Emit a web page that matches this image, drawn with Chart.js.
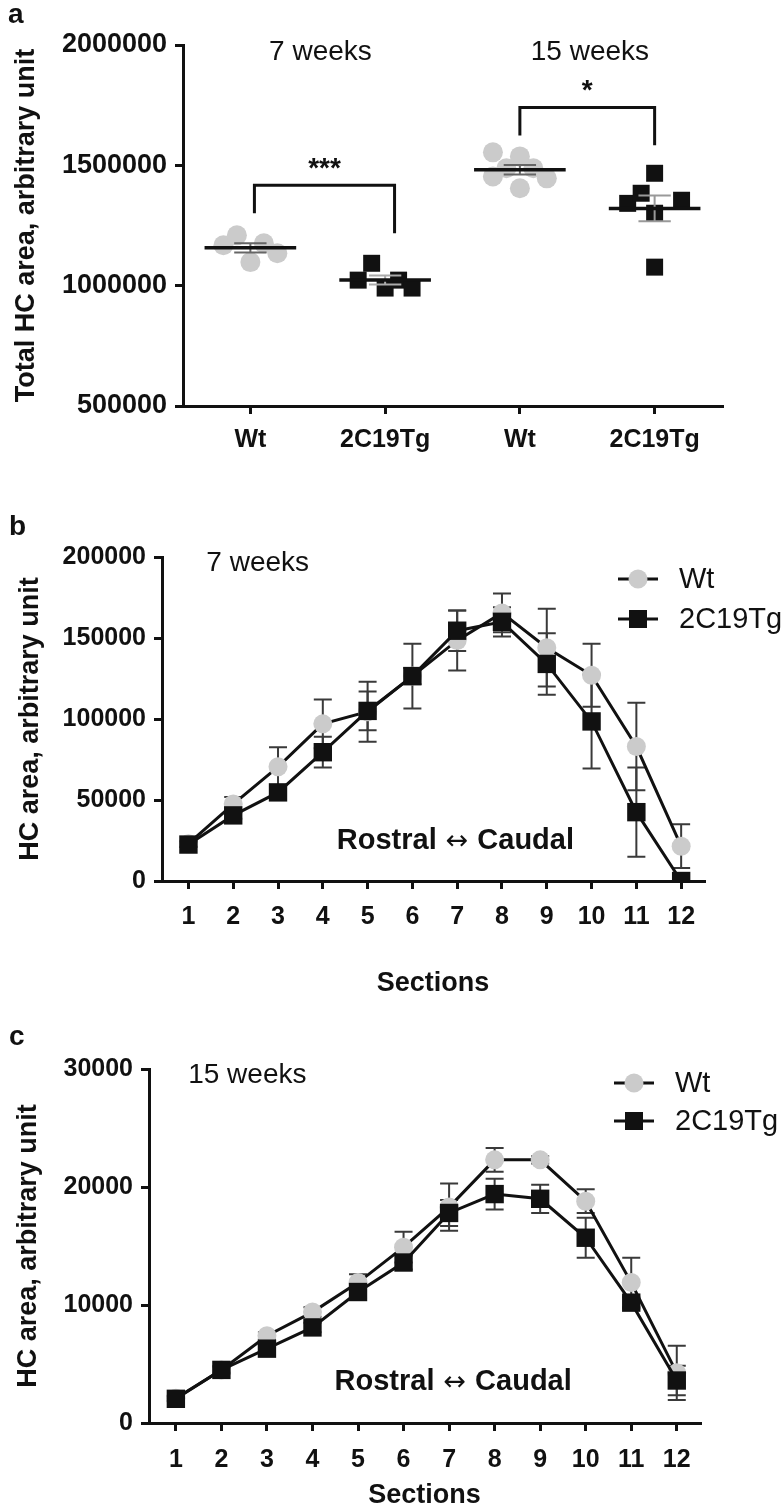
<!DOCTYPE html>
<html><head><meta charset="utf-8">
<script src="https://cdn.jsdelivr.net/npm/chart.js@4.4.1/dist/chart.umd.min.js"></script>
<style>
html,body{margin:0;padding:0;background:#fff;}
body{width:783px;height:1512px;position:relative;overflow:hidden;font-family:"Liberation Sans",Arial,sans-serif;}
canvas{position:absolute;left:0;}
.letter{position:absolute;font-weight:bold;font-size:28px;line-height:28px;color:#111;}
</style></head><body>
<canvas id="chartA" width="783" height="480" style="top:0px"></canvas>
<canvas id="chartB" width="783" height="520" style="top:480px"></canvas>
<canvas id="chartC" width="783" height="512" style="top:1000px"></canvas>
<div class="letter" style="left:8px;top:0px">a</div>
<div class="letter" style="left:9px;top:512px">b</div>
<div class="letter" style="left:9px;top:1022px">c</div>
<script>
// ---------- Panel a data ----------
const groupLabels = ['Wt', '2C19Tg', 'Wt', '2C19Tg'];
const ageLabels = ['7 weeks', '15 weeks'];
const significance = ['***', '*'];
const wt7Values  = [1168000, 1209000, 1098000, 1176000, 1135000];
const wt7Offsets = [-0.2, -0.1, 0, 0.1, 0.2];
const tg7Values  = [1023000, 1093000, 990000, 1023000, 990000];
const tg7Offsets = [-0.2, -0.1, 0, 0.1, 0.2];
const wt15Values  = [1554000, 1454000, 1488000, 1537000, 1405000, 1488000, 1446000];
const wt15Offsets = [-0.2, -0.2, -0.1, 0, 0, 0.1, 0.2];
const tg15Values  = [1342000, 1384000, 1467000, 1301000, 1077000, 1355000];
const tg15Offsets = [-0.2, -0.1, 0, 0, 0, 0.2];
const yTicksA = [500000, 1000000, 1500000, 2000000];

// ---------- Panel b/c data ----------
const sections = [1, 2, 3, 4, 5, 6, 7, 8, 9, 10, 11, 12];
const seriesNames = ['Wt', '2C19Tg'];
const directionLabels = ['Rostral', '\u2194', 'Caudal'];
const wt7w    = [23000, 47500, 70500, 97000, 104500, 126500, 148500, 165500, 144000, 127000, 83000, 21500];
const wt7wSem = [1500, 4300, 12000, 15000, 18500, 20000, 18500, 12000, 24000, 19500, 27000, 13500];
const tg7w    = [22500, 40500, 54700, 79500, 105000, 126500, 154500, 160000, 134000, 98500, 42500, 0];
const tg7wSem = [1500, 2000, 3000, 9500, 12000, 5000, 12500, 9000, 19000, 29000, 27500, 0];
const yTicksB = [0, 50000, 100000, 150000, 200000];
const wt15w    = [2100, 4500, 7400, 9400, 11900, 14900, 18300, 22300, 22300, 18800, 11900, 4250];
const wt15wSem = [200, 200, 300, 400, 700, 1300, 2000, 1000, 300, 1000, 2100, 2300];
const tg15w    = [2050, 4500, 6300, 8100, 11100, 13600, 17800, 19400, 19000, 15700, 10200, 3600];
const tg15wSem = [200, 300, 300, 400, 500, 600, 1100, 1300, 1200, 1700, 500, 1250];
const yTicksC = [0, 10000, 20000, 30000];

// ---------- styling ----------
const FONT = "'Liberation Sans', Arial, Helvetica, sans-serif";
const ARROW_FONT = "'DejaVu Sans', sans-serif";
const INK = '#111111';
const GREY = '#cbcbcb';
Chart.defaults.font.family = FONT;
Chart.defaults.color = INK;

function axisStyle() {
  return {
    grid: {display: true, drawOnChartArea: false, drawTicks: true, tickLength: 8, tickWidth: 3, tickColor: INK, color: INK, lineWidth: 3},
    border: {display: true, color: INK, width: 3}
  };
}

// overlay plugin: texts, brackets, legend, error bars, mean lines
const overlay = {
  id: 'overlay',
  beforeDatasetsDraw(chart, args, opts) {
    const {ctx} = chart; const xs = chart.scales.x, ys = chart.scales.y;
    if (opts.errorBars) {
      chart.data.datasets.forEach(ds => {
        if (!ds.sem) return;
        ctx.save(); ctx.strokeStyle = '#3a3a3a'; ctx.lineWidth = 2;
        ds.data.forEach((p, i) => {
          const s = ds.sem[i]; if (!s) return;
          const x = xs.getPixelForValue(p.x);
          const y1 = ys.getPixelForValue(p.y + s), y2 = ys.getPixelForValue(p.y - s);
          ctx.beginPath();
          ctx.moveTo(x, y1); ctx.lineTo(x, y2);
          ctx.moveTo(x - 9, y1); ctx.lineTo(x + 9, y1);
          ctx.moveTo(x - 9, y2); ctx.lineTo(x + 9, y2);
          ctx.stroke();
        });
        ctx.restore();
      });
    }
  },
  afterDatasetsDraw(chart, args, opts) {
    const {ctx} = chart; const xs = chart.scales.x, ys = chart.scales.y;
    if (opts.meanSem) {
      chart.data.datasets.forEach(ds => {
        const v = ds.data.map(p => p.y); const n = v.length;
        const mean = v.reduce((a, b) => a + b, 0) / n;
        const sd = Math.sqrt(v.reduce((a, b) => a + (b - mean) * (b - mean), 0) / (n - 1));
        const sem = sd / Math.sqrt(n);
        const g = ds.group;
        ctx.save();
        ctx.strokeStyle = ds.semColor; ctx.lineWidth = 2;
        const xc = xs.getPixelForValue(g), y1 = ys.getPixelForValue(mean + sem), y2 = ys.getPixelForValue(mean - sem);
        const cw = xs.getPixelForValue(g + 0.12) - xc;
        ctx.beginPath();
        ctx.moveTo(xc, y1); ctx.lineTo(xc, y2);
        ctx.moveTo(xc - cw, y1); ctx.lineTo(xc + cw, y1);
        ctx.moveTo(xc - cw, y2); ctx.lineTo(xc + cw, y2);
        ctx.stroke();
        ctx.strokeStyle = INK; ctx.lineWidth = 3.5;
        ctx.beginPath();
        ctx.moveTo(xs.getPixelForValue(g - 0.34), ys.getPixelForValue(mean));
        ctx.lineTo(xs.getPixelForValue(g + 0.34), ys.getPixelForValue(mean));
        ctx.stroke();
        ctx.restore();
      });
    }
    (opts.brackets || []).forEach(b => {
      ctx.save(); ctx.strokeStyle = INK; ctx.lineWidth = 3;
      const xl = xs.getPixelForValue(b.x1), xr = xs.getPixelForValue(b.x2), yt = ys.getPixelForValue(b.top);
      ctx.beginPath();
      ctx.moveTo(xl, ys.getPixelForValue(b.left)); ctx.lineTo(xl, yt); ctx.lineTo(xr, yt); ctx.lineTo(xr, ys.getPixelForValue(b.right));
      ctx.stroke();
      ctx.font = 'bold 28px ' + FONT; ctx.fillStyle = INK; ctx.textAlign = 'center'; ctx.textBaseline = 'middle';
      ctx.fillText(b.label, (xl + xr) / 2, ys.getPixelForValue(b.labelY));
      ctx.restore();
    });
    (opts.texts || []).forEach(t => {
      ctx.save(); ctx.font = t.font; ctx.fillStyle = INK; ctx.textAlign = t.align || 'center'; ctx.textBaseline = 'middle';
      ctx.fillText(t.text, xs.getPixelForValue(t.x), ys.getPixelForValue(t.y));
      ctx.restore();
    });
    if (opts.direction) {
      // "Rostral ↔ Caudal" : words bold, arrow from a font that has a full-size glyph
      const d = opts.direction;
      const fonts = ['bold 29px ' + FONT, '27px ' + ARROW_FONT, 'bold 29px ' + FONT];
      const gap = 9;
      ctx.save(); ctx.fillStyle = INK; ctx.textBaseline = 'middle'; ctx.textAlign = 'left';
      const widths = directionLabels.map((s, i) => { ctx.font = fonts[i]; return ctx.measureText(s).width; });
      const total = widths.reduce((a, b) => a + b, 0) + 2 * gap;
      let x = xs.getPixelForValue(d.x) - total / 2; const y = ys.getPixelForValue(d.y);
      directionLabels.forEach((s, i) => {
        ctx.font = fonts[i];
        ctx.fillText(s, x, i === 1 ? y + 1 : y);
        x += widths[i] + gap;
      });
      ctx.restore();
    }
    if (opts.legend) {
      const L = opts.legend; const ca = chart.chartArea;
      chart.data.datasets.slice().sort((a, b) => a.legendIndex - b.legendIndex).forEach((ds, i) => {
        const cx = ca.right + L.dx, cy = ca.top + L.y0 + i * L.dy;
        ctx.save(); ctx.strokeStyle = INK; ctx.lineWidth = 3;
        ctx.beginPath(); ctx.moveTo(cx - 20, cy); ctx.lineTo(cx + 20, cy); ctx.stroke();
        ctx.fillStyle = ds.pointBackgroundColor;
        if (ds.pointStyle === 'rect') { ctx.fillRect(cx - 9, cy - 9, 18, 18); }
        else { ctx.beginPath(); ctx.arc(cx, cy, 9.5, 0, Math.PI * 2); ctx.fill(); }
        ctx.font = '29px ' + FONT; ctx.fillStyle = INK; ctx.textAlign = 'left'; ctx.textBaseline = 'middle';
        ctx.fillText(ds.label, cx + 41, cy + 1);
        ctx.restore();
      });
    }
  }
};

// ---------- Panel a ----------
function groupPoints(values, offsets, g) { return values.map((v, i) => ({x: g + offsets[i], y: v})); }
const aX = axisStyle(), aY = axisStyle();
new Chart(document.getElementById('chartA'), {
  type: 'scatter',
  data: {datasets: [
    {label: groupLabels[0], group: 1, semColor: '#666', data: groupPoints(wt7Values, wt7Offsets, 1), pointStyle: 'circle', pointRadius: 10, pointBackgroundColor: GREY, pointBorderWidth: 0, order: 2},
    {label: groupLabels[1], group: 2, semColor: '#aaa', data: groupPoints(tg7Values, tg7Offsets, 2), pointStyle: 'rect', pointRadius: 12, pointBackgroundColor: INK, pointBorderWidth: 0, order: 1},
    {label: groupLabels[2], group: 3, semColor: '#666', data: groupPoints(wt15Values, wt15Offsets, 3), pointStyle: 'circle', pointRadius: 10, pointBackgroundColor: GREY, pointBorderWidth: 0, order: 2},
    {label: groupLabels[3], group: 4, semColor: '#999', data: groupPoints(tg15Values, tg15Offsets, 4), pointStyle: 'rect', pointRadius: 12, pointBackgroundColor: INK, pointBorderWidth: 0, order: 1}
  ]},
  options: {
    responsive: false, animation: false, devicePixelRatio: 1,
    layout: {padding: {left: 0, top: 45, right: 61, bottom: 0}},
    plugins: {legend: {display: false}, tooltip: {enabled: false},
      overlay: {
        meanSem: true,
        brackets: [
          {x1: 1.03, x2: 2.07, top: 1417000, left: 1301000, right: 1218000, label: significance[0], labelY: 1485000},
          {x1: 3.0, x2: 4.0, top: 1740000, left: 1624000, right: 1583000, label: significance[1], labelY: 1808000}
        ],
        texts: [
          {text: ageLabels[0], x: 1.52, y: 1968000, font: '28px ' + FONT},
          {text: ageLabels[1], x: 3.52, y: 1968000, font: '28px ' + FONT}
        ]
      }
    },
    scales: {
      x: Object.assign(aX, {type: 'linear', min: 0.5, max: 4.5,
        afterBuildTicks: s => { s.ticks = groupLabels.map((l, i) => ({value: i + 1})); },
        afterFit: s => { s.height = 74; },
        ticks: {padding: 11, font: {size: 25, weight: 'bold'}, color: INK, callback: v => groupLabels[Math.round(v) - 1]}
      }),
      y: Object.assign(aY, {type: 'linear', min: 500000, max: 2000000,
        afterBuildTicks: s => { s.ticks = yTicksA.map(v => ({value: v})); },
        afterFit: s => { s.width = 183; },
        ticks: {padding: 8, font: {size: 27, weight: 'bold'}, color: INK, callback: v => String(v)},
        title: {display: true, text: 'Total HC area, arbitrary unit', font: {size: 27, weight: 'bold'}, color: INK, padding: {top: 10, bottom: 0}}
      })
    }
  },
  plugins: [overlay]
});

// ---------- Panels b and c ----------
function lineChart(id, wt, wtSem, tg, tgSem, yTicks, yMax, layoutPad, yWidth, xHeight, tickPad, titlePad, ageText, ageX, ageY, dirX, dirY, legendCfg) {
  const toPts = arr => arr.map((v, i) => ({x: sections[i], y: v}));
  const bx = axisStyle(), by = axisStyle();
  return new Chart(document.getElementById(id), {
    type: 'scatter',
    data: {datasets: [
      {label: seriesNames[0], legendIndex: 0, data: toPts(wt), sem: wtSem, showLine: true, borderColor: INK, borderWidth: 3, pointStyle: 'circle', pointRadius: 9.5, pointBackgroundColor: GREY, pointBorderWidth: 0, order: 2},
      {label: seriesNames[1], legendIndex: 1, data: toPts(tg), sem: tgSem, showLine: true, borderColor: INK, borderWidth: 3, pointStyle: 'rect', pointRadius: 13, pointBackgroundColor: INK, pointBorderWidth: 0, order: 1}
    ]},
    options: {
      responsive: false, animation: false, devicePixelRatio: 1,
      layout: {padding: layoutPad},
      plugins: {legend: {display: false}, tooltip: {enabled: false},
        overlay: {
          errorBars: true,
          texts: [{text: ageText, x: ageX, y: ageY, font: '28px ' + FONT, align: 'left'}],
          direction: {x: dirX, y: dirY},
          legend: legendCfg
        }
      },
      scales: {
        x: Object.assign(bx, {type: 'linear', min: 0.41, max: 12.51,
          afterBuildTicks: s => { s.ticks = sections.map(v => ({value: v})); },
          afterFit: s => { s.height = xHeight; },
          ticks: {padding: tickPad, font: {size: 25, weight: 'bold'}, color: INK, callback: v => String(v)},
          title: {display: true, text: 'Sections', font: {size: 27, weight: 'bold'}, color: INK, padding: {top: 0, bottom: 0}}
        }),
        y: Object.assign(by, {type: 'linear', min: 0, max: yMax,
          afterBuildTicks: s => { s.ticks = yTicks.map(v => ({value: v})); },
          afterFit: s => { s.width = yWidth; },
          ticks: {padding: 8, font: {size: 25, weight: 'bold'}, color: INK, callback: v => String(v)},
          title: {display: true, text: 'HC area, arbitrary unit', font: {size: 27, weight: 'bold'}, color: INK, padding: {top: titlePad, bottom: 0}}
        })
      }
    },
    plugins: [overlay]
  });
}

lineChart('chartB', wt7w, wt7wSem, tg7w, tg7wSem, yTicksB, 200000,
  {left: 0, top: 77, right: 79, bottom: 0}, 162, 119, 13, 14,
  '7 weeks', 1.4, 196000, 6.96, 24600, {dx: -66, y0: 22, dy: 40});

lineChart('chartC', wt15w, wt15wSem, tg15w, tg15wSem, yTicksC, 30000,
  {left: 0, top: 69, right: 83, bottom: 0}, 149, 89, 14, 12,
  '15 weeks', 1.27, 29500, 7.09, 3500, {dx: -66, y0: 14, dy: 38});
</script>
</body></html>
